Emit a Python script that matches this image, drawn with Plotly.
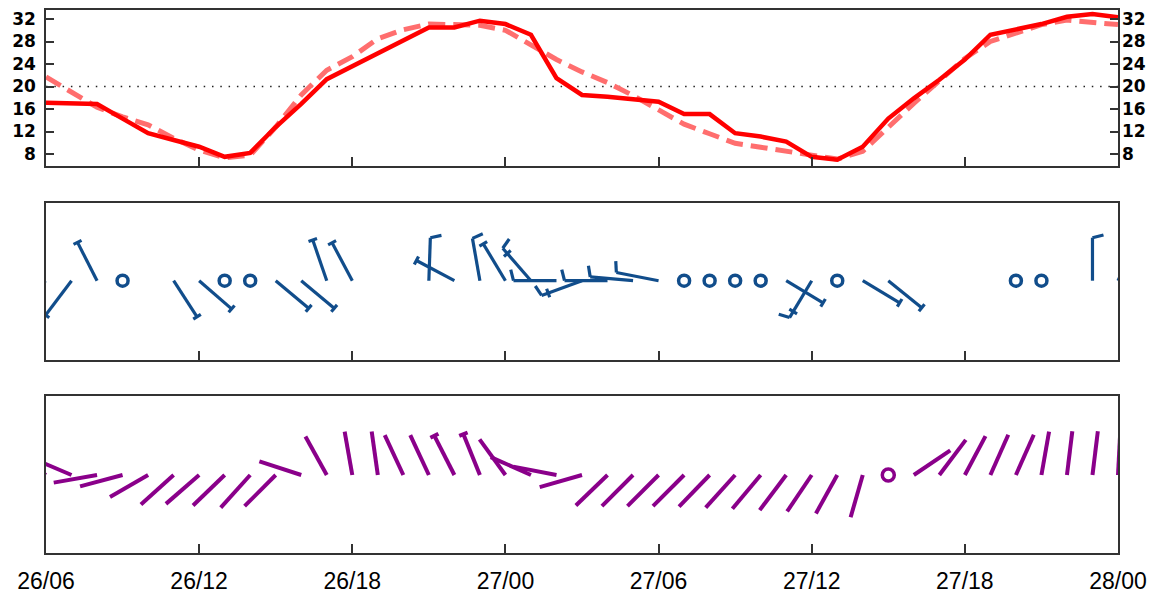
import math
import plotly.graph_objects as go

# ---------------- data ----------------
hours = list(range(43))  # hours since 26/06
tick_hours = [0, 6, 12, 18, 24, 30, 36, 42]
tick_labels = ["26/06", "26/12", "26/18", "27/00", "27/06", "27/12", "27/18", "28/00"]
temp_ticks = [8, 12, 16, 20, 24, 28, 32]
ref_level = 20

temperature = [17.1, 17.0, 16.9, 14.3, 11.7, 10.5, 9.3, 7.5, 8.2, 12.8, 16.9, 21.3, 23.6, 25.9,
               28.2, 30.5, 30.5, 31.7, 31.1, 29.2, 21.5, 18.5, 18.2, 17.7, 17.3, 15.1, 15.1,
               11.7, 11.1, 10.2, 7.5, 7.0, 9.3, 14.3, 17.9, 21.2, 24.8, 29.2, 30.1, 31.1,
               32.4, 32.9, 32.3]
feels_like = [21.7, 19.0, 16.3, 14.6, 13.2, 10.8, 8.7, 7.3, 7.8, 12.8, 18.5, 22.9, 25.3, 28.5,
              30.1, 31.1, 31.1, 30.9, 30.0, 27.3, 24.8, 22.6, 20.7, 18.4, 15.8, 13.3, 11.6,
              9.9, 9.2, 8.5, 7.6, 7.1, 8.5, 12.9, 17.0, 21.0, 25.0, 28.0, 29.6, 31.0, 31.8,
              31.4, 31.0]

# wind (middle panel): direction from (deg), speed (kt); 0 = calm, None = missing
wind_dir = [250, 217, 333, 0, None, 147, 131, 0, 0, 130, 130, 341, 332, None, None, 2, 298,
            350, 329, 319, 270, 250, 270, 275, 281, 0, 0, 0, 0, 121, 211, 0, 121, 129, None,
            None, None, None, 0, 0, None, 0, 25]
wind_kt = [5, 5, 5, 0, None, 5, 5, 0, 0, 5, 5, 5, 5, None, None, 10, 5, 10, 5, 15,
           10, 15, 10, 10, 10, 0, 0, 0, 0, 5, 15, 0, 5, 5, None, None, None, None, 0, 0,
           None, 10, 5]

# upper-level wind (bottom panel)
upper_dir = [300, 293, 260, 255, 240, 228, 229, 226, 222, 225, 288, 331, 350, 352, 335, 335,
             333, 338, 324, 294, 281, 254, 226, 225, 225, 225, 224, 222, 220, 217, 214, 209,
             196, 0, 56, 37, 28, 24, 24, 10, 7, 7, 3]
upper_kt = [3, 3, 3, 3, 3, 3, 3, 3, 3, 3, 3, 3, 3, 3, 3, 3, 5, 5, 3, 3, 3, 3, 3, 3, 3, 3, 3,
            3, 3, 3, 3, 3, 3, 0, 3, 3, 3, 3, 3, 3, 3, 3, 3]

# ---------------- geometry helpers ----------------
W, H = 1154, 600
ML, MR, MT, MB = 46, 36, 10, 47
PX_PER_H = (W - ML - MR) / (hours[-1] - hours[0])
PANEL_PX = 157  # wind panels: y axis in pixel units


def barbs(dirs, spds, y0, L, ffull, fhalf, spacing):
    xs, ys, cx, cy = [], [], [], []

    def seg(h, ax, ay, bx_, by_):
        xs.extend([h + ax / PX_PER_H, h + bx_ / PX_PER_H, None])
        ys.extend([y0 + ay, y0 + by_, None])

    for h, d, s in zip(hours, dirs, spds):
        if d is None or s is None:
            continue
        if s == 0:
            cx.append(h)
            cy.append(y0)
            continue
        t = math.radians(d)
        ux, uy = math.sin(t), math.cos(t)
        px, py = uy, -ux
        seg(h, 0, 0, ux * L, uy * L)
        nfull, half = s // 10, (s % 10) >= 5
        pos = L
        for _ in range(nfull):
            bx, by = ux * pos, uy * pos
            seg(h, bx, by, bx + px * ffull + ux * ffull * 0.25, by + py * ffull + uy * ffull * 0.25)
            pos -= spacing
        if half:
            bx, by = ux * pos, uy * pos
            seg(h, bx - px * fhalf, by - py * fhalf, bx + px * fhalf, by + py * fhalf)
    return xs, ys, cx, cy


fig = go.Figure()

# ---------------- top panel ----------------
fig.add_trace(go.Scatter(x=[hours[0], hours[-1]], y=[ref_level, ref_level], mode="lines",
                         line=dict(color="#222", width=1.4, dash="1.5px,6.8px"),
                         xaxis="x", yaxis="y", hoverinfo="skip", showlegend=False))
fig.add_trace(go.Scatter(x=hours, y=feels_like, mode="lines",
                         line=dict(color="#ff6e6e", width=5, dash="17px,8px"),
                         xaxis="x", yaxis="y", showlegend=False))
fig.add_trace(go.Scatter(x=hours, y=temperature, mode="lines",
                         line=dict(color="#ff0000", width=4.5),
                         xaxis="x", yaxis="y", showlegend=False))

# ---------------- middle panel ----------------
BLUE = "#114d8b"
bx, by, ccx, ccy = barbs(wind_dir, wind_kt, 79.3, 43, 11, 4.5, 7)
fig.add_trace(go.Scatter(x=bx, y=by, mode="lines", line=dict(color=BLUE, width=3.2),
                         xaxis="x2", yaxis="y2", showlegend=False, hoverinfo="skip"))
fig.add_trace(go.Scatter(x=ccx, y=ccy, mode="markers",
                         marker=dict(symbol="circle-open", size=11, color=BLUE,
                                     line=dict(width=3.5, color=BLUE)),
                         xaxis="x2", yaxis="y2", showlegend=False))

# ---------------- bottom panel ----------------
PURPLE = "#8a008a"
ux_, uy_, ucx, ucy = barbs(upper_dir, upper_kt, 78, 44, 11, 4.5, 7)
fig.add_trace(go.Scatter(x=ux_, y=uy_, mode="lines", line=dict(color=PURPLE, width=4),
                         xaxis="x3", yaxis="y3", showlegend=False, hoverinfo="skip"))
fig.add_trace(go.Scatter(x=ucx, y=ucy, mode="markers",
                         marker=dict(symbol="circle-open", size=12, color=PURPLE,
                                     line=dict(width=3.5, color=PURPLE)),
                         xaxis="x3", yaxis="y3", showlegend=False))

FRAME = "#333333"
plot_h = H - MT - MB


def dom(top_px, bot_px):
    return [(H - MB - bot_px) / plot_h, (H - MB - top_px) / plot_h]


xcommon = dict(range=[hours[0], hours[-1]], tickvals=tick_hours, ticktext=tick_labels,
               ticks="inside", ticklen=9, tickwidth=1.5, tickcolor=FRAME, showline=True,
               linecolor=FRAME, linewidth=1.5, mirror=True, showgrid=False, zeroline=False,
               fixedrange=True, automargin=False)
yfont = dict(family="DejaVu Sans", size=17, color="black", weight="bold")
fig.update_layout(
    width=W, height=H,
    margin=dict(l=ML, r=MR, t=MT, b=MB),
    paper_bgcolor="white", plot_bgcolor="white",
    xaxis=dict(**xcommon, anchor="y", showticklabels=False),
    xaxis2=dict(**xcommon, anchor="y2", showticklabels=False),
    xaxis3=dict(**xcommon, anchor="y3", showticklabels=True,
                tickfont=dict(family="Liberation Sans, Arial", size=23, color="black"),
                ticklabelstandoff=7),
    yaxis=dict(domain=dom(10, 166), range=[5.87, 33.6], tickvals=temp_ticks,
               ticks="inside", ticklen=8, tickwidth=1.5, tickcolor=FRAME,
               showline=True, linecolor=FRAME, linewidth=1.5, mirror="ticks",
               showgrid=False, zeroline=False, anchor="x", automargin=False,
               tickfont=yfont, ticklabelstandoff=5),
    yaxis4=dict(overlaying="y", side="right", anchor="x", range=[5.87, 33.6],
                tickvals=temp_ticks, ticks="", showline=False, showgrid=False,
                zeroline=False, automargin=False, tickfont=yfont, ticklabelstandoff=3),
    yaxis2=dict(domain=dom(203, 360), range=[0, PANEL_PX], showticklabels=False, ticks="",
                showline=True, linecolor=FRAME, linewidth=1.5, mirror=True,
                showgrid=False, zeroline=False, anchor="x2"),
    yaxis3=dict(domain=dom(396, 553), range=[0, PANEL_PX], showticklabels=False, ticks="",
                showline=True, linecolor=FRAME, linewidth=1.5, mirror=True,
                showgrid=False, zeroline=False, anchor="x3"),
)
# invisible trace so the right-hand temperature axis renders
fig.add_trace(go.Scatter(x=[hours[0]], y=[temp_ticks[0]], mode="markers",
                         marker=dict(opacity=0), xaxis="x", yaxis="y4",
                         showlegend=False, hoverinfo="skip"))

fig.write_html("out.html", config={"displayModeBar": False},
               post_script="document.body.style.margin='0';document.body.style.overflow='hidden';")
